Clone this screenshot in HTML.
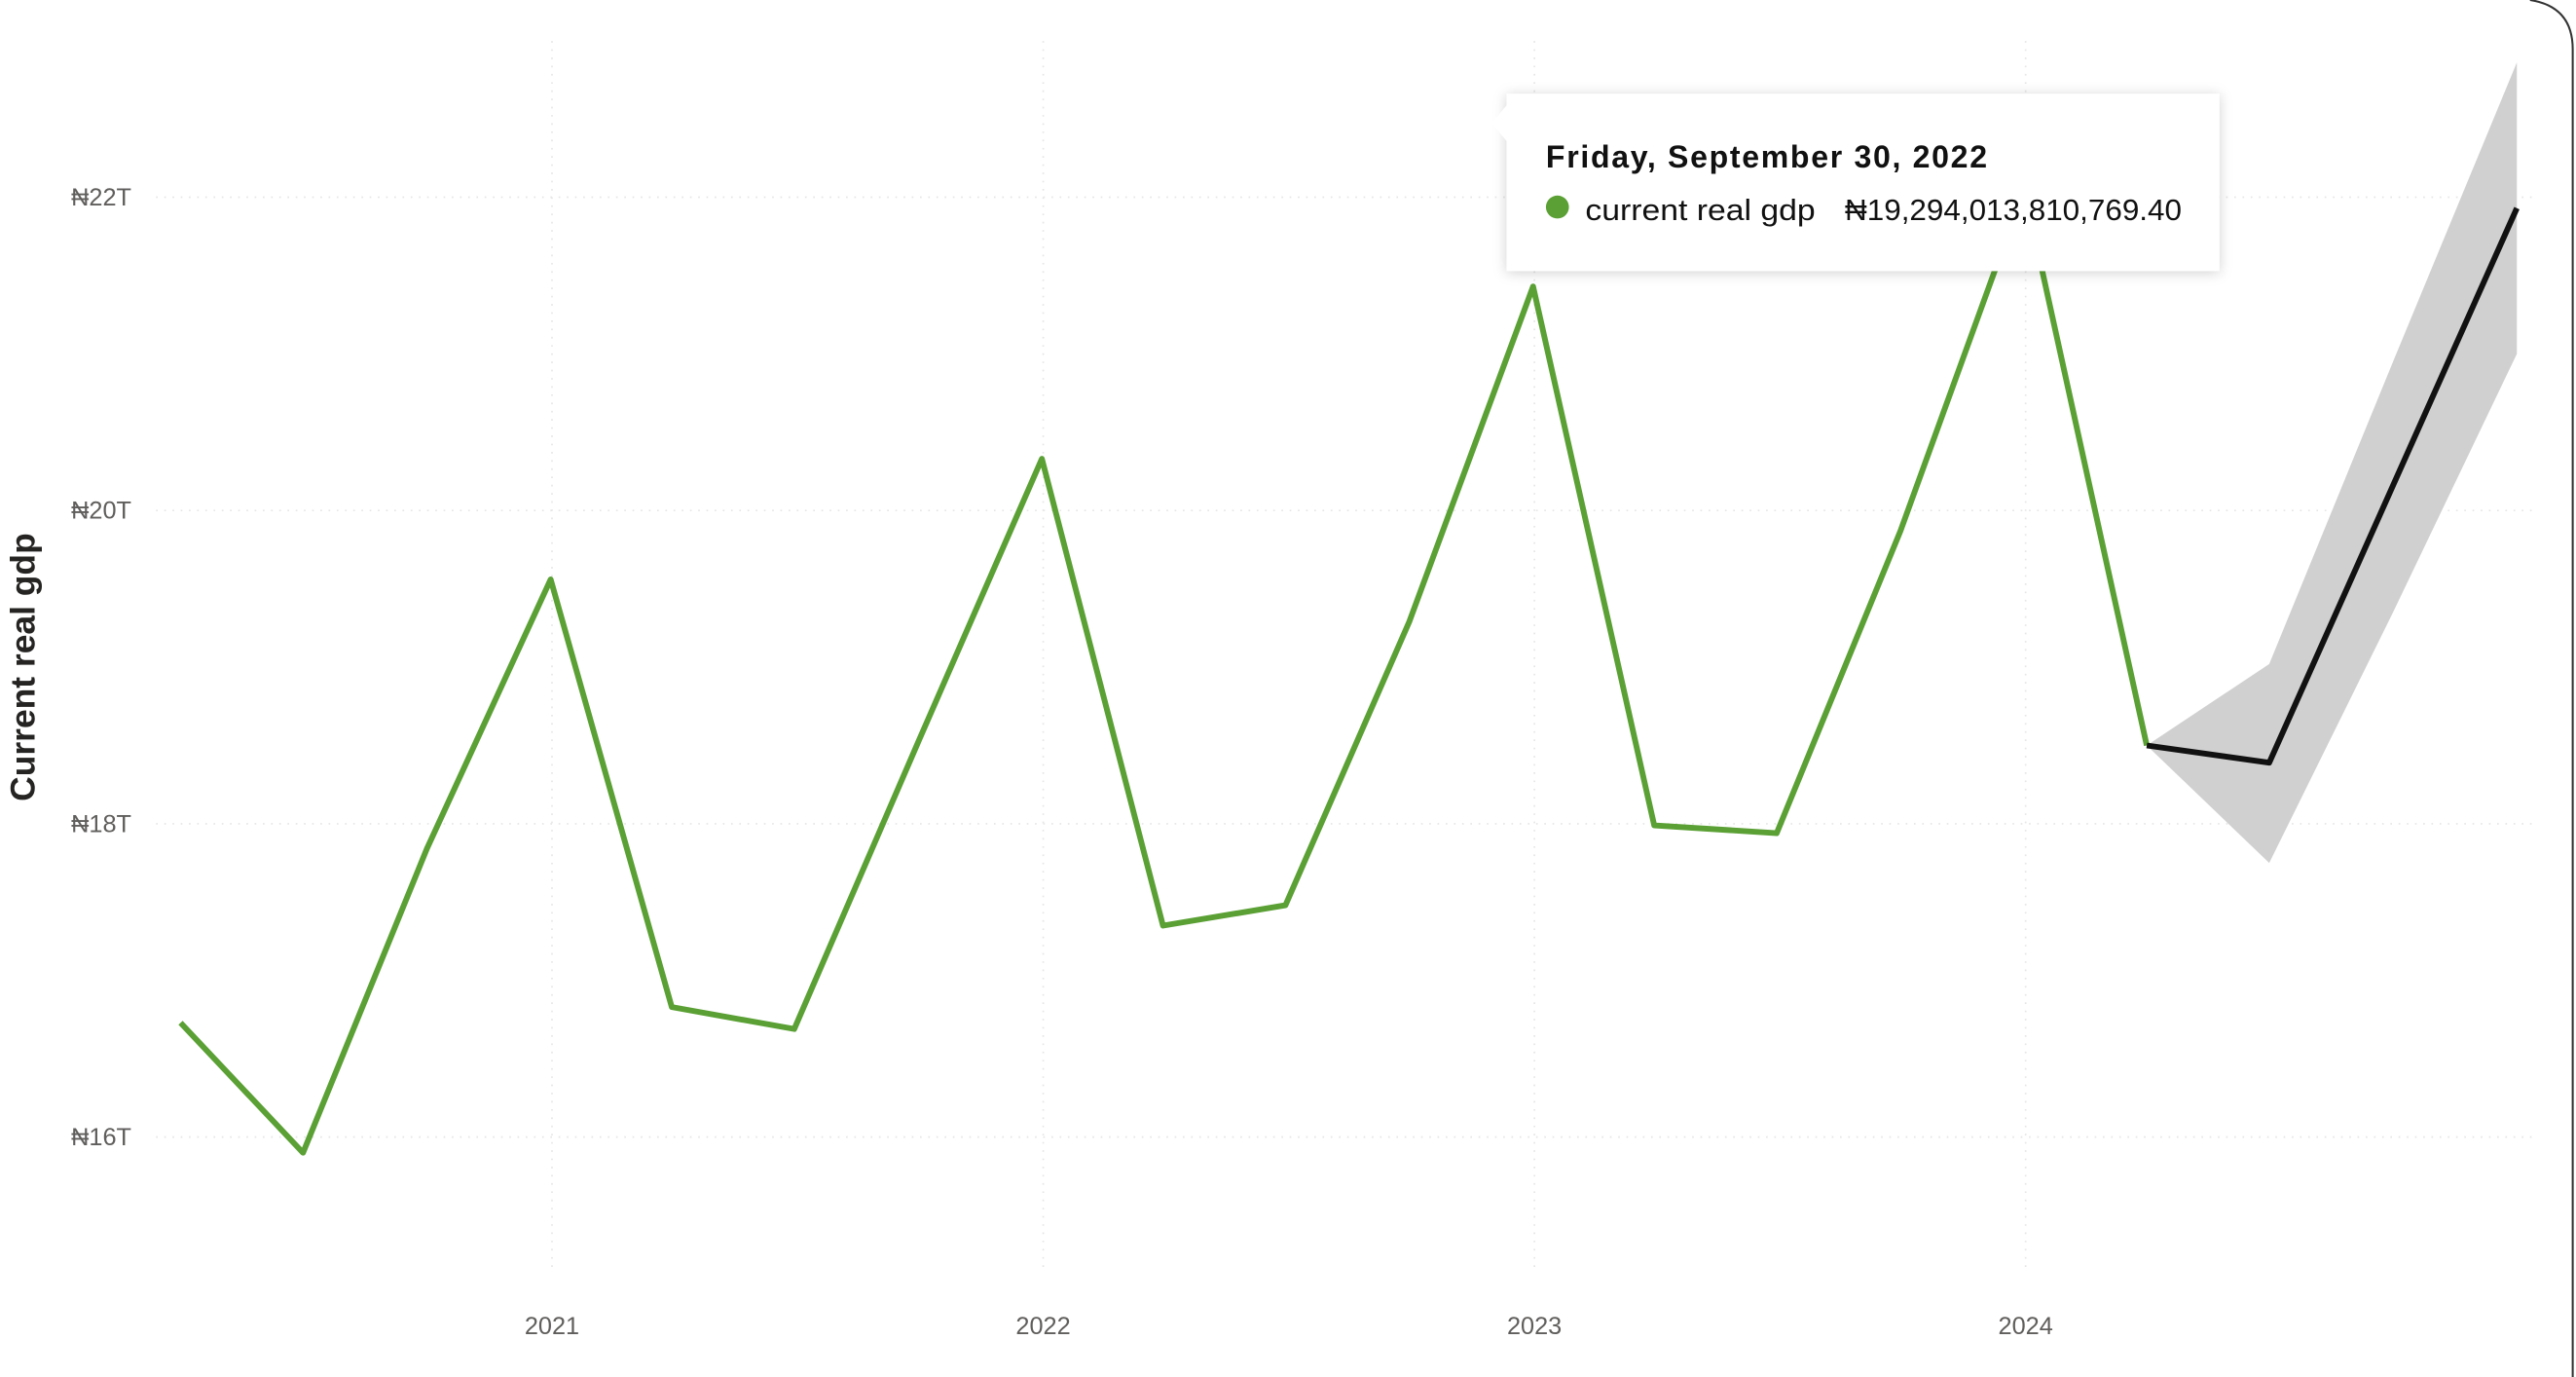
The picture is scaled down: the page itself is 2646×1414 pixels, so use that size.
<!DOCTYPE html>
<html><head><meta charset="utf-8"><style>
html,body{margin:0;padding:0;background:#fff;width:2646px;height:1414px;overflow:hidden}
svg{display:block}
text{font-family:"Liberation Sans","DejaVu Sans",sans-serif}
</style></head><body>
<svg id="chart" width="2646" height="1414" viewBox="0 0 1568 838" preserveAspectRatio="none" xmlns="http://www.w3.org/2000/svg">
<path d="M1540,0 Q1566,4 1566,30 L1566,838" fill="none" stroke="#333" stroke-width="1.2"/>
<g id="grid"></g><g id="band"></g><g id="lines"></g><g id="axes"></g>
<text transform="translate(21,406) rotate(-90)" text-anchor="middle" font-size="21" font-weight="bold" fill="#252423">Current real gdp</text>
<g>
<polygon points="917,62 907,74 917,86" fill="#fff"/>
<rect x="917" y="57" width="434" height="108" fill="#fff" style="filter:drop-shadow(0 1px 4px rgba(0,0,0,0.18))"/>
<polygon points="918,63 908,75 918,87" fill="#fff"/>
<text x="941" y="102" font-size="19" font-weight="bold" letter-spacing="1" fill="#111">Friday, September 30, 2022</text>
<circle cx="948" cy="126" r="7" fill="#5aa034"/>
<text x="965" y="134" font-size="18" fill="#111" textLength="140" lengthAdjust="spacingAndGlyphs">current real gdp</text>
<text x="1123" y="134" font-size="18" fill="#111" textLength="205" lengthAdjust="spacingAndGlyphs">₦19,294,013,810,769.40</text>
</g>
</svg>
<script>
const quarters=["2020-03-31","2020-06-30","2020-09-30","2020-12-31","2021-03-31","2021-06-30","2021-09-30","2021-12-31","2022-03-31","2022-06-30","2022-09-30","2022-12-31","2023-03-31","2023-06-30","2023-09-30","2023-12-31","2024-03-31"];
const gdp=[16.73,15.90,17.84,19.56,16.83,16.69,18.52,20.33,17.35,17.48,19.29,21.43,17.99,17.94,19.87,22.05,18.50];
const fcDates=["2024-03-31","2024-06-30","2024-09-30","2024-12-31"];
const fcValues=[18.50,18.39,20.16,21.93];
const fcUpper=[18.50,19.02,20.95,22.86];
const fcLower=[18.50,17.75,19.35,21.00];
const yTicks=[16,18,20,22];
const yTickLabels=["₦16T","₦18T","₦20T","₦22T"];
const xTicks=["2021-01-01","2022-01-01","2023-01-01","2024-01-01"];
const xTickLabels=["2021","2022","2023","2024"];
const NS="http://www.w3.org/2000/svg";
const t0=Date.parse("2021-01-01"),t1=Date.parse("2024-01-01");
function xs(d){return 336+(Date.parse(d)-t0)/(t1-t0)*(1233-336);}
function ys(v){return 692-(v-16)*(692-120)/6;}
function mk(tag,attrs,parent){const e=document.createElementNS(NS,tag);for(const k in attrs)e.setAttribute(k,attrs[k]);document.getElementById(parent).appendChild(e);return e;}
yTicks.forEach((v,i)=>{
 const g=mk("line",{x1:95,x2:1545,y1:ys(v),y2:ys(v),stroke:"#e6e6e6","stroke-dasharray":"1 4","stroke-width":1},"grid");
 
 
 const t=mk("text",{x:80,y:ys(v)+5,"text-anchor":"end","font-size":15,fill:"#605e5c"},"axes");
 t.textContent=yTickLabels[i];
 
 
});
xTicks.forEach((d,i)=>{
 const g=mk("line",{x1:xs(d),x2:xs(d),y1:25,y2:775,stroke:"#e6e6e6","stroke-dasharray":"1 4","stroke-width":1},"grid");
 
 
 const t=mk("text",{x:xs(d),y:812,"text-anchor":"middle","font-size":15,fill:"#605e5c"},"axes");
 t.textContent=xTickLabels[i];
 
 
});
let bp=fcDates.map((d,i)=>xs(d)+","+ys(fcUpper[i]));
for(let i=fcDates.length-1;i>=0;i--)bp.push(xs(fcDates[i])+","+ys(fcLower[i]));
const band=mk("polygon",{points:bp.join(" "),fill:"#d0d0d0"},"band");


const gl=mk("polyline",{points:quarters.map((d,i)=>xs(d)+","+ys(gdp[i])).join(" "),fill:"none",stroke:"#5aa034","stroke-width":3.5,"stroke-linejoin":"round"},"lines");


const fl=mk("polyline",{points:fcDates.map((d,i)=>xs(d)+","+ys(fcValues[i])).join(" "),fill:"none",stroke:"#111","stroke-width":3.5,"stroke-linejoin":"round"},"lines");


</script>
</body></html>
